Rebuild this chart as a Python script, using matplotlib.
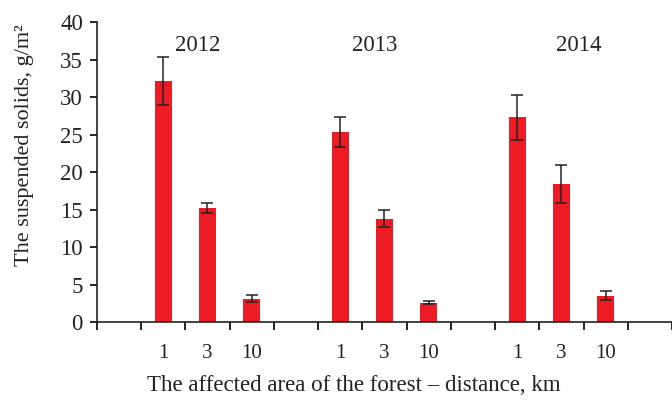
import numpy as np
import matplotlib
matplotlib.use("Agg")
import matplotlib.pyplot as plt

YEARS = ["2012", "2013", "2014"]
DISTANCES = ["1", "3", "10"]
VALUES = {
    "2012": [32.2, 15.2, 3.1],
    "2013": [25.4, 13.8, 2.6],
    "2014": [27.3, 18.4, 3.5],
}
ERRORS = {
    "2012": [3.2, 0.7, 0.45],
    "2013": [2.0, 1.1, 0.25],
    "2014": [3.0, 2.5, 0.6],
}
YEAR_LABEL_X = [2.28, 6.28, 10.9]

plt.rcParams["font.family"] = ["Liberation Serif", "DejaVu Serif"]

fig = plt.figure(figsize=(6.72, 4.01), dpi=100)
ax = fig.add_axes([0.144, 0.197, 0.856, 0.748])

pos, vals, errs, labels = [], [], [], []
for g, yr in enumerate(YEARS):
    for i, d in enumerate(DISTANCES):
        pos.append(4 * g + 1 + i + 0.5)
        vals.append(VALUES[yr][i])
        errs.append(ERRORS[yr][i])
        labels.append(d)

ax.bar(pos, vals, width=0.38, color="#ED1C24", zorder=2)
ax.errorbar(pos, vals, yerr=errs, fmt="none", ecolor="#222222",
            elinewidth=1.1, capsize=4, capthick=1.1, zorder=3)

for x, yr in zip(YEAR_LABEL_X, YEARS):
    ax.text(x, 36.9, yr, ha="center", va="center", fontsize=16.5, color="#222222")

ax.set_xlim(0, 13)
ax.set_ylim(0, 40)
ax.set_yticks(np.arange(0, 41, 5))
ax.set_xticks(np.arange(0, 14))
ax.set_xticklabels([])
ax.set_xticks(pos, minor=True)
ax.set_xticklabels(labels, minor=True)
ax.tick_params(axis="x", which="major", direction="out", length=6, width=1.2)
ax.tick_params(axis="x", which="minor", length=0, pad=16, labelsize=15,
               labelcolor="#222222")
ax.tick_params(axis="y", direction="out", length=5, width=1.2, labelsize=16.5,
               pad=5, labelcolor="#222222")

for s in ["top", "right"]:
    ax.spines[s].set_visible(False)
for s in ["left", "bottom"]:
    ax.spines[s].set_linewidth(1.2)
    ax.spines[s].set_color("#222222")

ax.set_ylabel("The suspended solids, g/m\u00b2", fontsize=16, color="#222222")
ax.yaxis.set_label_coords(-0.109, 0.59)
ax.set_xlabel("The affected area of the forest \u2013 distance, km", fontsize=16.5,
              color="#222222")
ax.xaxis.set_label_coords(0.447, -0.178)

fig.savefig("out.png", dpi=100)
